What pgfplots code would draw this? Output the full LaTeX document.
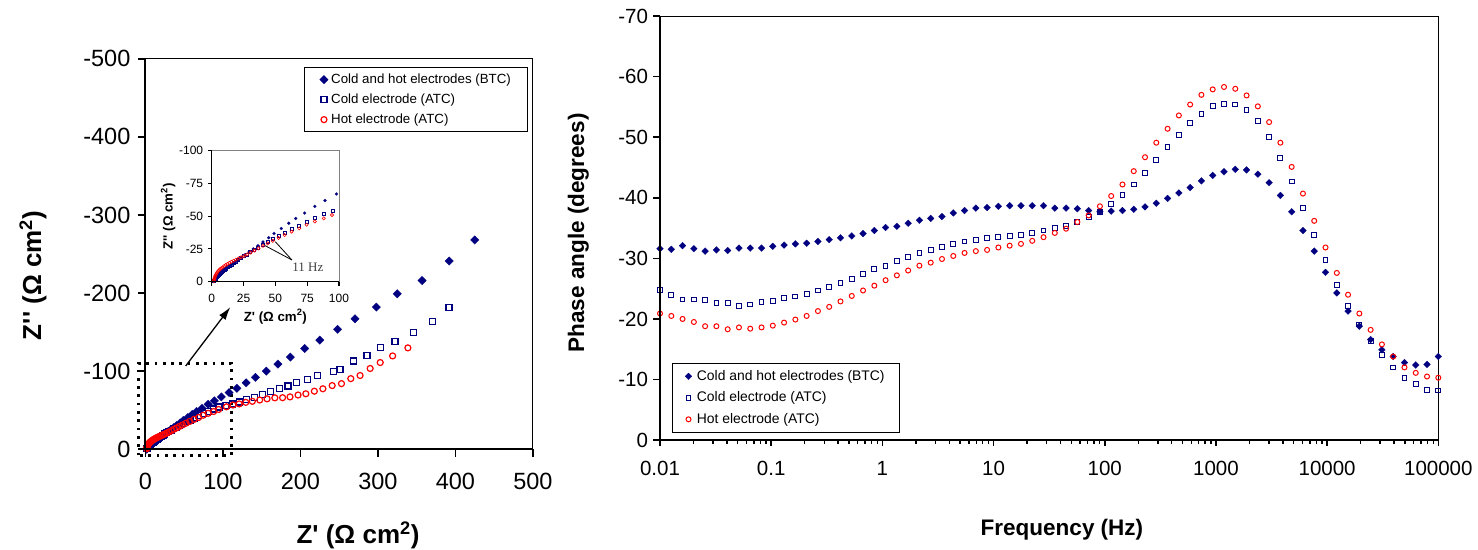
\documentclass[border=0pt]{standalone}
\usepackage{pgfplots}
\usepackage{pgfplotstable}
\pgfplotsset{compat=1.18}
\usetikzlibrary{arrows.meta}
\usepackage{fontspec}
\setmainfont{Liberation Sans}[Ligatures=TeXOff]
\newfontfamily\serifx{Liberation Serif}
\definecolor{navy}{RGB}{0,0,128}
\definecolor{hotred}{RGB}{255,0,0}

\pgfplotstableread{
x y
425 -268
392 -241
357 -216
325 -199
298 -182
270.5 -167
248 -153.5
225 -139.7
205.5 -129
187 -118
171 -109
156 -100
142 -92
130 -85
118 -78
108 -72.5
98 -67
89 -62
81 -57.5
73 -52.4
66 -48.3
60.5 -44.6
54.7 -40.6
49 -36.8
44.8 -33.6
40.3 -30.3
36.4 -27.5
32.7 -25
29.3 -22.6
26 -20.4
23.3 -18.5
21 -16.9
19 -15.4
17.2 -14.1
15.5 -12.9
13.9 -11.7
12.4 -10.6
11 -9.6
9.7 -8.6
8.5 -7.6
7.4 -6.8
6.4 -6
5.5 -5.2
4.7 -4.4
4 -3.7
3.4 -3
2.9 -2.4
2.5 -1.8
2.2 -1.3
2 -0.8
1.8 -0.4
1.7 -0.1
}\nyqbtc

\pgfplotstableread{
x y
391.7 -181.7
370 -164
346 -149.5
322 -138
303 -130
286 -120
268 -113
251 -102
242.5 -100
222 -94
209 -89.5
195 -85
184 -81
173 -77.4
161 -73.4
151 -70.3
140.5 -66.7
130 -63.6
121 -60.4
112 -57.8
104 -56
95 -54
88 -51.5
81 -48.8
74.6 -45.8
68.6 -42.8
62.8 -40
57.5 -37.4
52.5 -35
48 -32.6
44 -30.4
40 -28.2
36.5 -26.2
33.3 -24.3
30.3 -22.5
27.5 -20.9
25 -19.4
22.7 -17.9
20.6 -16.5
18.7 -15.3
17 -14.2
15.4 -13.1
13.9 -12.1
12.5 -11.1
11.2 -10.2
10 -9.3
8.9 -8.4
7.9 -7.6
7 -6.8
6.1 -6
5.3 -5.2
4.6 -4.5
4 -3.8
3.4 -3.1
2.9 -2.4
2.5 -1.8
2.2 -1.3
2 -0.9
1.8 -0.5
}\nyqcold

\pgfplotstableread{
x y
338.7 -129.8
319 -119.5
303 -111
290 -103.4
277 -94.4
265 -90.4
253 -84
241 -81.5
229 -77.4
218 -74.3
207 -71
197 -69.4
186.6 -67
177 -66
167 -65.8
157 -64.5
147.5 -63
138 -61.3
129.5 -60
121 -58
113 -56.6
104.6 -54.3
94.5 -50.9
88 -48.3
81 -46
74.6 -43.5
68.8 -40.7
62.8 -38.2
57.3 -35.6
52.5 -33.4
48 -31.2
44 -29.2
40.3 -27.3
36.8 -25.5
33.6 -23.8
30.6 -22.2
27.9 -20.8
25.4 -19.6
23.1 -18.6
21 -17.7
19 -16.8
17.2 -16
15.5 -15.2
13.9 -14.4
12.4 -13.5
11 -12.7
9.7 -11.9
8.5 -11
7.4 -10.2
6.4 -9.4
5.5 -8.5
4.7 -7.6
4 -6.6
3.4 -5.6
2.9 -4.6
2.5 -3.6
2.2 -2.7
2 -1.9
1.8 -1.2
1.7 -0.6
}\nyqhot

\pgfplotstableread{
f btc cold hot
0.01 -31.6 -24.8 -20.9
0.01264 -31.5 -23.9 -20.5
0.01595 -32.1 -23.2 -20.0
0.02016 -31.6 -23.2 -19.5
0.02546 -31.2 -23.1 -18.8
0.03216 -31.4 -22.6 -18.8
0.04062 -31.3 -22.7 -18.3
0.05131 -31.7 -22.2 -18.6
0.06481 -31.7 -22.4 -18.4
0.08186 -31.7 -22.8 -18.6
0.1034 -32.0 -22.9 -18.9
0.1306 -32.2 -23.4 -19.4
0.1650 -32.4 -23.7 -19.9
0.2084 -32.5 -24.1 -20.5
0.2633 -32.8 -24.7 -21.3
0.3326 -33.1 -25.3 -22.0
0.4201 -33.4 -26.0 -22.9
0.5306 -33.7 -26.6 -23.8
0.6703 -34.1 -27.4 -24.7
0.8467 -34.6 -28.2 -25.5
1.069 -35.1 -28.8 -26.4
1.350 -35.3 -29.6 -27.2
1.706 -35.8 -30.2 -28.0
2.154 -36.3 -30.9 -28.8
2.721 -36.6 -31.4 -29.3
3.437 -36.9 -31.9 -29.9
4.342 -37.5 -32.4 -30.4
5.484 -37.9 -32.8 -30.9
6.927 -38.3 -33.1 -31.2
8.750 -38.4 -33.4 -31.4
11.05 -38.6 -33.5 -31.8
13.96 -38.7 -33.7 -32.1
17.64 -38.7 -33.9 -32.4
22.28 -38.7 -34.2 -32.9
28.14 -38.7 -34.6 -33.5
35.54 -38.3 -35.0 -34.2
44.90 -38.3 -35.4 -34.9
56.71 -38.2 -36.0 -36.0
71.63 -37.9 -36.8 -37.1
90.48 -37.7 -37.7 -38.6
114.3 -37.8 -39.0 -40.3
144.4 -37.9 -40.5 -42.2
182.3 -38.1 -42.2 -44.4
230.3 -38.5 -44.1 -46.7
290.9 -39.1 -46.2 -49.1
367.5 -39.9 -48.4 -51.4
464.2 -40.8 -50.4 -53.6
586.3 -41.7 -52.4 -55.4
740.6 -42.8 -53.9 -57.0
935.5 -43.7 -55.1 -57.9
1182 -44.3 -55.5 -58.3
1493 -44.7 -55.4 -58.0
1886 -44.6 -54.5 -56.9
2382 -43.9 -52.7 -55.1
3009 -42.5 -50.1 -52.5
3800 -40.4 -46.6 -49.1
4800 -37.7 -42.7 -45.1
6063 -34.6 -38.3 -40.7
7659 -31.2 -33.9 -36.2
9672 -27.7 -29.7 -31.8
12220 -24.3 -25.6 -27.6
15430 -21.3 -22.1 -24.0
19490 -18.8 -19.1 -20.9
24620 -16.6 -16.4 -18.2
31100 -14.9 -14.1 -15.8
39280 -13.8 -12.0 -13.8
49620 -12.8 -10.3 -12.0
62680 -12.4 -9.3 -11.1
79170 -12.5 -8.3 -10.5
100000 -13.8 -8.2 -10.3
}\phase

\pgfplotsset{
  btcL/.style={only marks, mark=square*, mark size=3pt, mark options={rotate=45, draw=navy, fill=navy, line width=0.2pt}},
  coldL/.style={only marks, mark=square, mark size=3pt, mark options={draw=navy, line width=1.2pt}},
  hotL/.style={only marks, mark=o, mark size=3pt, mark options={draw=hotred, line width=1.2pt}},
  btcR/.style={only marks, mark=square*, mark size=2.4pt, mark options={rotate=45, draw=navy, fill=navy, line width=0.2pt}},
  coldR/.style={only marks, mark=square, mark size=2.4pt, mark options={draw=navy, line width=1pt}},
  hotR/.style={only marks, mark=o, mark size=2.5pt, mark options={draw=hotred, line width=1pt}},
  btcI/.style={only marks, mark=square*, mark size=1.1pt, mark options={rotate=45, draw=navy, fill=navy, line width=0.1pt}},
  coldI/.style={only marks, mark=square, mark size=1.5pt, mark options={draw=navy, line width=0.6pt}},
  hotI/.style={only marks, mark=o, mark size=1.6pt, mark options={draw=hotred, line width=0.6pt}},
  mylegimg/.style={legend image code/.code={\draw[##1] plot coordinates {(0pt,0pt)};}},
}

\begin{document}
\begin{tikzpicture}
\useasboundingbox (0pt,0pt) rectangle (1478pt,549pt);

% ---------------- Nyquist main ----------------
\begin{axis}[
  name=nyq,
  at={(145.4pt,99.8pt)}, anchor=south west,
  scale only axis, width=387.5pt, height=390.4pt,
  xmin=0, xmax=500, ymin=-500, ymax=0, y dir=reverse,
  xtick={0,100,200,300,400,500}, xticklabels={0,100,200,300,400,500},
  ytick={-500,-400,-300,-200,-100,0}, yticklabels={-500,-400,-300,-200,-100,0},
  xtick pos=bottom, ytick pos=left,
  tick align=outside, major tick length=7.5pt,
  tick style={draw=none},
  axis line style={line width=0.9pt},
  tick label style={font=\fontsize{23.5}{28}\selectfont},
  xticklabel style={yshift=-13pt},
  yticklabel style={xshift=-4pt},
  xlabel={Z' (Ω cm\textsuperscript{2})},
  ylabel={Z'' (Ω cm\textsuperscript{2})},
  label style={font=\fontsize{26}{31}\selectfont\bfseries},
  xlabel style={at={(axis description cs:0.5486,-0.2216)}, anchor=center},
  ylabel style={at={(axis description cs:-0.29,0.445)}, anchor=center},
  clip=false,
  mylegimg,
  legend cell align=left,
  legend style={at={(axis description cs:0.41,0.9785)}, anchor=north west,
    draw=black, line width=0.9pt, fill=white,
    font=\fontsize{13.3}{15}\selectfont, inner xsep=15pt, inner ysep=2pt,
    row sep=0pt, nodes={inner ysep=3.5pt, text height=10pt, text depth=3pt},
    /tikz/every odd column/.append style={column sep=1pt}},
  extra description/.code={
    \draw[line width=2pt] (axis description cs:0,1) -- (axis description cs:0,0) -- (axis description cs:1,0);
  },
]
\addplot[btcL] table[x=x,y=y] {\nyqbtc};
\addlegendentry{Cold and hot electrodes (BTC)}
\addplot[coldL] table[x=x,y=y] {\nyqcold};
\addlegendentry{Cold electrode (ATC)}
\addplot[hotL] table[x=x,y=y] {\nyqhot};
\addlegendentry{Hot electrode (ATC)}
\draw[line width=2.7pt, dash pattern=on 2.7pt off 5.6pt] (axis cs:-8.8,7.7) rectangle (axis cs:111,-110);
\draw[line width=1.3pt, -{Latex[length=13pt,width=8pt]}] (axis cs:52,-106.6) -- (axis cs:109.6,-182);
\end{axis}
\foreach \i in {0,...,5} {
  \draw[line width=1.6pt] ([xshift=\i*77.5pt]nyq.south west) -- ++(0pt,-7.5pt);
  \draw[line width=1.6pt] ([yshift=\i*78.08pt]nyq.south west) -- ++(-7.5pt,0pt);
}

% ---------------- Inset ----------------
\begin{axis}[
  name=ins,
  at={(211.7pt,267.3pt)}, anchor=south west,
  scale only axis, width=127.3pt, height=131pt,
  xmin=0, xmax=100, ymin=-100, ymax=0, y dir=reverse,
  xtick={0,25,50,75,100}, xticklabels={0,25,50,75,100},
  ytick={-100,-75,-50,-25,0}, yticklabels={-100,-75,-50,-25,0},
  xtick pos=bottom, ytick pos=left,
  tick align=outside, major tick length=4pt,
  tick style={draw=none},
  axis line style={line width=1pt, draw=black!50},
  axis background/.style={fill=white},
  tick label style={font=\fontsize{12}{14}\selectfont},
  xticklabel style={yshift=-5pt},
  yticklabel style={xshift=-1pt},
  xlabel={Z' (Ω cm\textsuperscript{2})},
  ylabel={Z'' (Ω cm\textsuperscript{2})},
  label style={font=\fontsize{13.3}{16}\selectfont\bfseries},
  xlabel style={at={(axis description cs:0.5,-0.267)}, anchor=center},
  ylabel style={at={(axis description cs:-0.343,0.5)}, anchor=center},
  restrict x to domain=-1:101, restrict y to domain=-101:1,
  extra description/.code={
    \draw[line width=1.4pt] (axis description cs:0,1) -- (axis description cs:0,0) -- (axis description cs:1,0);
  },
]
\addplot[btcI] table[x=x,y=y] {\nyqbtc};
\addplot[coldI] table[x=x,y=y] {\nyqcold};
\addplot[hotI] table[x=x,y=y] {\nyqhot};
\draw[line width=0.8pt] (axis cs:63,-16.6) -- (axis cs:41,-28);
\draw[line width=0.8pt] (axis cs:63,-16.6) -- (axis cs:50,-30.5);
\node[font=\serifx\fontsize{13}{15}\selectfont, text=black!75] at (axis cs:75.6,-11) {11 Hz};
\end{axis}
\foreach \i in {0,...,4} {
  \draw[line width=1.1pt] ([xshift=\i*31.825pt]ins.south west) -- ++(0pt,-4pt);
  \draw[line width=1.1pt] ([yshift=\i*32.75pt]ins.south west) -- ++(-4pt,0pt);
}

% ---------------- Phase angle ----------------
\begin{axis}[
  name=ph,
  at={(660pt,108.9pt)}, anchor=south west,
  scale only axis, width=778.3pt, height=424pt,
  xmode=log, xmin=0.01, xmax=100000,
  ymin=-70, ymax=0, y dir=reverse,
  xtick={0.01,0.1,1,10,100,1000,10000,100000},
  xticklabels={0.01,0.1,1,10,100,1000,10000,100000},
  ytick={-70,-60,-50,-40,-30,-20,-10,0},
  yticklabels={-70,-60,-50,-40,-30,-20,-10,0},
  xtick pos=bottom, ytick pos=left,
  tick align=outside, major tick length=6.5pt, minor tick length=4pt,
  tick style={draw=none},
  axis line style={line width=0.9pt},
  tick label style={font=\fontsize{20.5}{24}\selectfont},
  xticklabel style={yshift=-11pt},
  yticklabel style={xshift=-2pt},
  xlabel={Frequency (Hz)},
  ylabel={Phase angle (degrees)},
  label style={font=\fontsize{22.5}{27}\selectfont\bfseries},
  xlabel style={at={(axis description cs:0.5165,-0.2106)}, anchor=center},
  ylabel style={at={(axis description cs:-0.105,0.4887)}, anchor=center},
  mylegimg,
  legend cell align=left,
  legend style={at={(axis description cs:0.015,0.1816)}, anchor=north west,
    draw=black, line width=0.9pt, fill=white,
    font=\fontsize{13.9}{16}\selectfont, inner xsep=13pt, inner ysep=2pt,
    row sep=0pt, nodes={inner ysep=4pt, text height=10.5pt, text depth=3pt},
    /tikz/every odd column/.append style={column sep=3pt}},
  extra description/.code={
    \draw[line width=2pt] (axis description cs:0,1) -- (axis description cs:0,0) -- (axis description cs:1,0);
  },
]
\addplot[btcR] table[x=f,y=btc] {\phase};
\addlegendentry{Cold and hot electrodes (BTC)}
\addplot[coldR] table[x=f,y=cold] {\phase};
\addlegendentry{Cold electrode (ATC)}
\addplot[hotR] table[x=f,y=hot] {\phase};
\addlegendentry{Hot electrode (ATC)}
\end{axis}
\foreach \i in {0,...,7} {
  \draw[line width=1.6pt] ([xshift=\i*111.186pt]ph.south west) -- ++(0pt,-6pt);
  \draw[line width=1.6pt] ([yshift=\i*60.571pt]ph.south west) -- ++(-6.7pt,0pt);
}
\foreach \d in {0,...,6} {
  \foreach \m in {33.47,53.05,66.94,77.72,86.52,93.96,100.41,106.10} {
    \draw[line width=1.4pt] ([xshift=\d*111.186pt+\m pt]ph.south west) -- ++(0pt,-4pt);
  }
}
\end{tikzpicture}
\end{document}
